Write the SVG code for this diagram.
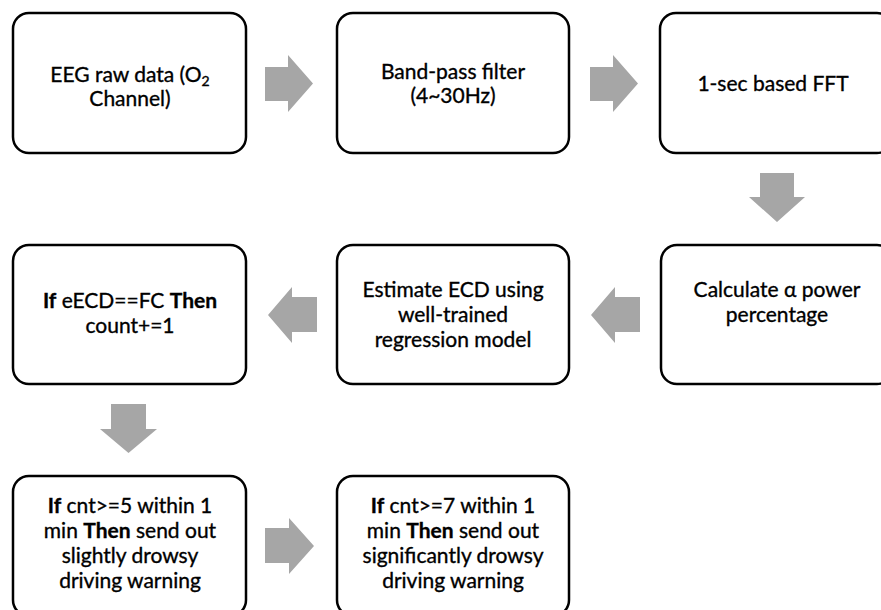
<svg xmlns="http://www.w3.org/2000/svg" width="881" height="610" viewBox="0 0 881 610">
<style>
.box{fill:#fff;stroke:#000;stroke-width:2.5}
.t{font-family:Lato,"Open Sans","Liberation Sans",sans-serif;font-size:21px;fill:#000;stroke:#000;stroke-width:0.35;text-anchor:middle}
.b{font-weight:bold}
.arr{fill:#a6a6a6;stroke:none}
</style>
<rect width="881" height="610" fill="#fff"/>
<g id="connectors">
<polygon class="arr" points="265,67 288,67 288,55 313,83.5 288,112 288,101 265,101"/>
<polygon class="arr" points="590,67 613,67 613,55 638,83.5 613,112 613,101 590,101"/>
<polygon class="arr" points="760,173 794,173 794,197 805,197 777,222 749,197 760,197"/>
<polygon class="arr" points="640,297 615,297 615,287 591,315 615,343 615,332 640,332"/>
<polygon class="arr" points="317,297 292,297 292,287 268,315 292,343 292,332 317,332"/>
<polygon class="arr" points="111,404 146,404 146,429 157,429 128.5,453 100,429 111,429"/>
<polygon class="arr" points="265,528 289,528 289,518 314,546 289,574 289,563 265,563"/>
</g>
<g id="n1">
<rect class="box" x="13" y="13" width="233" height="140" rx="16"/>
<text class="t" x="130" y="82">EEG raw data (O<tspan font-size="14" dy="4">2</tspan></text>
<text class="t" x="130" y="106">Channel)</text>
</g>
<g id="n2">
<rect class="box" x="337" y="13" width="232" height="140" rx="16"/>
<text class="t" x="453" y="79">Band-pass filter</text>
<text class="t" x="453" y="103">(4~30Hz)</text>
</g>
<g id="n3">
<rect class="box" x="660" y="13" width="233" height="140" rx="16"/>
<text class="t" x="773" y="91">1-sec based FFT</text>
</g>
<g id="n6">
<rect class="box" x="661" y="245" width="232" height="139" rx="16"/>
<text class="t" x="777" y="297">Calculate α power</text>
<text class="t" x="777" y="322">percentage</text>
</g>
<g id="n5">
<rect class="box" x="337" y="245" width="232" height="139" rx="16"/>
<text class="t" x="453" y="297">Estimate ECD using</text>
<text class="t" x="453" y="322">well-trained</text>
<text class="t" x="453" y="347">regression model</text>
</g>
<g id="n4">
<rect class="box" x="13" y="245" width="233" height="139" rx="16"/>
<text class="t" x="130" y="308"><tspan class="b">If</tspan> eECD==FC <tspan class="b">Then</tspan></text>
<text class="t" x="130" y="333">count+=1</text>
</g>
<g id="n7">
<rect class="box" x="13" y="476" width="233" height="140" rx="16"/>
<text class="t" x="130" y="513"><tspan class="b">If</tspan> cnt&gt;=5 within 1</text>
<text class="t" x="130" y="538">min <tspan class="b">Then</tspan> send out</text>
<text class="t" x="130" y="563">slightly drowsy</text>
<text class="t" x="130" y="588">driving warning</text>
</g>
<g id="n8">
<rect class="box" x="337" y="476" width="232" height="140" rx="16"/>
<text class="t" x="453" y="513"><tspan class="b">If</tspan> cnt&gt;=7 within 1</text>
<text class="t" x="453" y="538">min <tspan class="b">Then</tspan> send out</text>
<text class="t" x="453" y="563">significantly drowsy</text>
<text class="t" x="453" y="588">driving warning</text>
</g>
</svg>
